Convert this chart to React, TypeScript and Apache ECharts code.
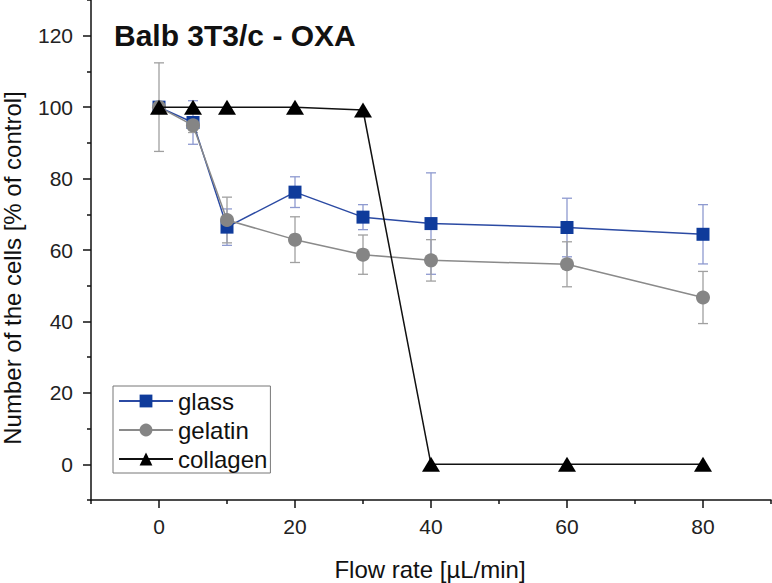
import React, { useEffect, useRef } from "react";
import * as echarts from "echarts";

const flowRates = [0, 5, 10, 20, 30, 40, 60, 80];
const glass = [100, 95.7, 66.4, 76.2, 69.2, 67.4, 66.3, 64.4];
const glassErr = [1, 6.1, 5.1, 4.3, 3.5, 14.2, 8.2, 8.3];
const gelatin = [100, 94.9, 68.4, 62.9, 58.7, 57.1, 56.0, 46.7];
const gelatinErr = [12.4, 2, 6.4, 6.4, 5.5, 5.8, 6.3, 7.3];
const collagen = [100, 100, 100, 100, 99.2, 0, 0, 0];

const xMajor = [0, 20, 40, 60, 80];
const xMinor = [-10, 10, 30, 50, 70, 90];
const yMajor = [0, 20, 40, 60, 80, 100, 120];
const yMinor = [-10, 10, 30, 50, 70, 90, 110, 130];

const FONT = "Liberation Sans, Arial, sans-serif";

function errorSeries(name: string, vals: number[], errs: number[], color: string) {
  const data = flowRates.map((x, i) => [x, vals[i] - errs[i], vals[i] + errs[i]]);
  return {
    type: "custom",
    name,
    z: 1,
    silent: true,
    data,
    encode: { x: 0, y: [1, 2] },
    renderItem: (params: any, api: any) => {
      const x = api.value(0);
      const lo = api.coord([x, api.value(1)]);
      const hi = api.coord([x, api.value(2)]);
      const w = 5;
      const style = { stroke: color, lineWidth: 1.3 };
      return {
        type: "group",
        children: [
          { type: "line", shape: { x1: lo[0], y1: lo[1], x2: hi[0], y2: hi[1] }, style },
          { type: "line", shape: { x1: lo[0] - w, y1: lo[1], x2: lo[0] + w, y2: lo[1] }, style },
          { type: "line", shape: { x1: hi[0] - w, y1: hi[1], x2: hi[0] + w, y2: hi[1] }, style },
        ],
      };
    },
  };
}

export default function App() {
  const ref = useRef<HTMLDivElement>(null);
  useEffect(() => {
    document.body.style.margin = "0";
    const chart = echarts.init(ref.current!, undefined, { renderer: "svg" });
    const axisLine = { show: true, onZero: false, lineStyle: { color: "#111", width: 1.5 } };
    const hiddenLine = { show: false, onZero: false };
    const labelStyle = { color: "#222", fontSize: 21, fontFamily: FONT };
    const tickLine = { color: "#111", width: 1.5 };
    chart.setOption({
      animation: false,
      backgroundColor: "#fff",
      title: {
        text: "Balb 3T3/c - OXA",
        left: 109,
        top: 15,
        textStyle: { fontFamily: FONT, fontSize: 30, fontWeight: "bold", color: "#111" },
      },
      legend: {
        orient: "vertical",
        left: 113,
        top: 386,
        data: ["glass", "gelatin", "collagen"],
        itemWidth: 54,
        itemHeight: 16,
        itemGap: 5,
        padding: [3, 3, 2, 5],
        borderColor: "#777",
        borderWidth: 1,
        borderRadius: 0,
        textStyle: { fontFamily: FONT, fontSize: 24, color: "#111" },
      },
      graphic: [
        {
          type: "text",
          x: 12,
          y: 268,
          rotation: Math.PI / 2,
          style: {
            text: "Number of the cells [% of control]",
            fontFamily: FONT,
            fontSize: 24,
            fill: "#111",
            align: "center",
            verticalAlign: "middle",
          },
        },
        {
          type: "text",
          x: 430,
          y: 569,
          style: {
            text: "Flow rate [µL/min]",
            fontFamily: FONT,
            fontSize: 24,
            fill: "#111",
            align: "center",
            verticalAlign: "middle",
          },
        },
      ],
      grid: { left: 91, right: 1, top: 0, bottom: 83 },
      xAxis: [
        {
          type: "value",
          min: -10,
          max: 90,
          axisLine,
          axisTick: { show: true, length: 8, customValues: xMajor, lineStyle: tickLine },
          axisLabel: { ...labelStyle, margin: 16, customValues: xMajor },
          splitLine: { show: false },
        },
        {
          type: "value",
          min: -10,
          max: 90,
          position: "bottom",
          axisLine: hiddenLine,
          axisTick: { show: true, length: 4, customValues: xMinor, lineStyle: tickLine },
          axisLabel: { show: false },
          splitLine: { show: false },
        },
      ],
      yAxis: [
        {
          type: "value",
          min: -10,
          max: 130,
          axisLine,
          axisTick: { show: true, length: 8, customValues: yMajor, lineStyle: tickLine },
          axisLabel: { ...labelStyle, margin: 18, customValues: yMajor },
          splitLine: { show: false },
        },
        {
          type: "value",
          min: -10,
          max: 130,
          position: "left",
          axisLine: hiddenLine,
          axisTick: { show: true, length: 4, customValues: yMinor, lineStyle: tickLine },
          axisLabel: { show: false },
          splitLine: { show: false },
        },
      ],
      series: [
        errorSeries("glassErr", glass, glassErr, "#8e9ad0"),
        errorSeries("gelatinErr", gelatin, gelatinErr, "#a0a0a0"),
        {
          type: "line",
          name: "glass",
          z: 3,
          data: flowRates.map((x, i) => [x, glass[i]]),
          symbol: "rect",
          symbolSize: 13,
          itemStyle: { color: "#0f3b9b" },
          lineStyle: { color: "#2b4aa3", width: 1.5 },
        },
        {
          type: "line",
          name: "gelatin",
          z: 4,
          data: flowRates.map((x, i) => [x, gelatin[i]]),
          symbol: "circle",
          symbolSize: 14,
          itemStyle: { color: "#858585" },
          lineStyle: { color: "#8a8a8a", width: 1.5 },
        },
        {
          type: "line",
          name: "collagen",
          z: 5,
          data: flowRates.map((x, i) => [x, collagen[i]]),
          symbol: "triangle",
          symbolSize: [18, 15],
          itemStyle: { color: "#000" },
          lineStyle: { color: "#111", width: 1.5 },
        },
      ],
    });
    return () => chart.dispose();
  }, []);
  return <div ref={ref} style={{ width: 772, height: 583 }} />;
}
